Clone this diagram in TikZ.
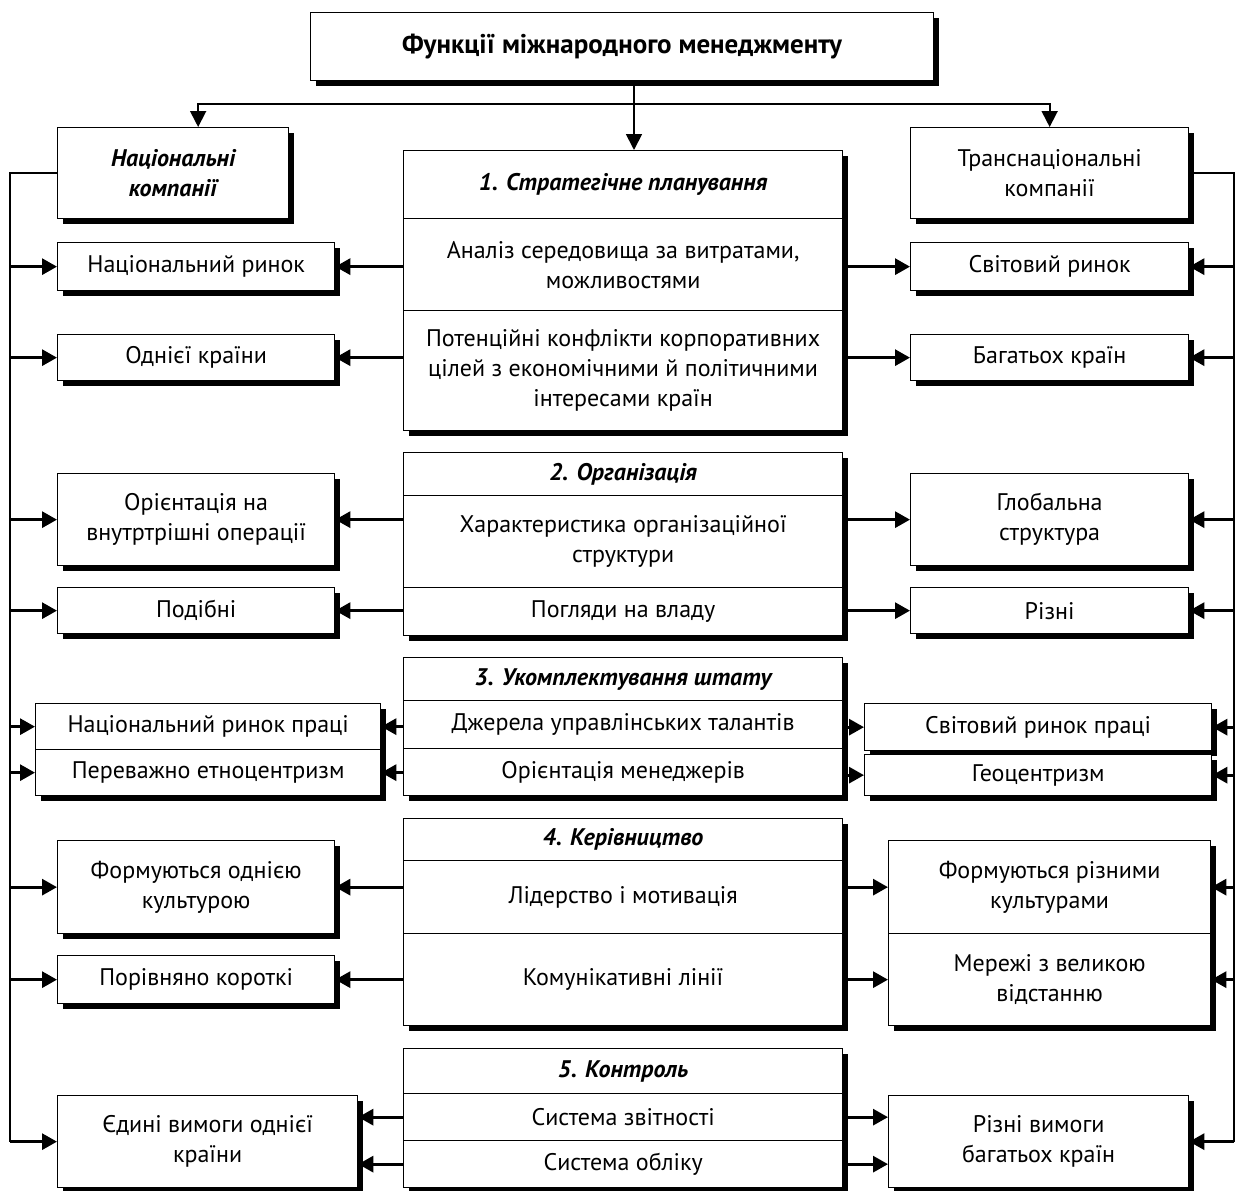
\documentclass[tikz,border=0pt]{standalone}
\usepackage{fontspec}
\setmainfont{PT Sans}
\usetikzlibrary{arrows.meta, shadows}

\tikzset{
  box/.style={draw, line width=1.3pt, fill=white, anchor=north west, align=center, inner sep=0pt,
    font=\fontsize{24}{30}\selectfont,
    drop shadow={shadow xshift=5pt, shadow yshift=-5pt, fill=black, opacity=1}},
  head/.style={box, font=\fontsize{24}{30}\selectfont\bfseries\itshape},
  mid/.style={box, minimum width=439pt},
  midhead/.style={head, minimum width=439pt},
  lside/.style={box, minimum width=277pt},
  rside/.style={box, minimum width=278pt},
  wire/.style={line width=1.8pt},
  down/.style={wire, -{Triangle[length=16pt, width=16pt]}},
  arr/.style={line width=3pt, -{Triangle[length=15pt, width=16pt]}},
}

\begin{document}
\begin{tikzpicture}[x=1pt, y=-1pt]
    \useasboundingbox (0,0) rectangle (1243,1191);

    % Title
    \node[box, font=\fontsize{27}{32}\selectfont\bfseries, minimum width=623pt, minimum height=68pt] (title) at (310,12) {Функції міжнародного менеджменту};

    % Companies
    \node[head, minimum width=231pt, minimum height=91pt] (natco) at (57,127) {Національні\\компанії};
    \node[rside, minimum height=91pt] (transco) at (910,127) {Транснаціональні\\компанії};

    % 1. Planning
    \node[midhead, minimum height=68pt] (plan) at (403,150) {1. Стратегічне планування};
    \node[mid, minimum height=92pt] (analiz) at (403,218) {Аналіз середовища за витратами,\\можливостями};
    \node[mid, minimum height=120pt] (konfl) at (403,310) {Потенційні конфлікти корпоративних\\цілей з економічними й політичними\\інтересами країн};

    % 2. Organisation
    \node[midhead, minimum height=43pt] (org) at (403,452) {2. Організація};
    \node[mid, minimum height=92pt] (harakt) at (403,495) {Характеристика організаційної\\структури};
    \node[mid, minimum height=48pt] (vlada) at (403,587) {Погляди на владу};

    % 3. Staffing
    \node[midhead, minimum height=43pt] (shtat) at (403,657) {3. Укомплектування штату};
    \node[mid, minimum height=48pt] (dzherela) at (403,700) {Джерела управлінських талантів};
    \node[mid, minimum height=47pt] (orman) at (403,748) {Орієнтація менеджерів};

    % 4. Leading
    \node[midhead, minimum height=42pt] (kerivn) at (403,818) {4. Керівництво};
    \node[mid, minimum height=73pt] (lider) at (403,860) {Лідерство і мотивація};
    \node[mid, minimum height=92pt] (komun) at (403,933) {Комунікативні лінії};

    % 5. Control
    \node[midhead, minimum height=45pt] (kontrol) at (403,1048) {5. Контроль};
    \node[mid, minimum height=47pt] (zvit) at (403,1093) {Система звітності};
    \node[mid, minimum height=47pt] (oblik) at (403,1140) {Система обліку};

    % National side
    \node[lside, minimum height=48pt] (natmkt) at (57,242) {Національний ринок};
    \node[lside, minimum height=46pt] (odna) at (57,334) {Однієї країни};
    \node[lside, minimum height=92pt] (vnutr) at (57,473) {Орієнтація на\\внутртрішні операції};
    \node[lside, minimum height=46pt] (podibni) at (57,587) {Подібні};
    \node[box, minimum width=345pt, minimum height=46pt] (natlab) at (35,703) {Національний ринок праці};
    \node[box, minimum width=345pt, minimum height=46pt] (etno) at (35,749) {Переважно етноцентризм};
    \node[lside, minimum height=93pt] (kult1) at (57,840) {Формуються однією\\культурою};
    \node[lside, minimum height=48pt] (short) at (57,955) {Порівняно короткі};
    \node[box, minimum width=300pt, minimum height=92pt] (edyni) at (57,1095) {Єдині вимоги однієї\\країни};

    % Transnational side
    \node[rside, minimum height=48pt] (svmkt) at (910,242) {Світовий ринок};
    \node[rside, minimum height=46pt] (bagato) at (910,334) {Багатьох країн};
    \node[rside, minimum height=92pt] (glob) at (910,473) {Глобальна\\структура};
    \node[rside, minimum height=46pt] (rizni) at (910,587) {Різні};
    \node[box, minimum width=347pt, minimum height=47pt] (svlab) at (864,703) {Світовий ринок праці};
    \node[box, minimum width=347pt, minimum height=41pt] (geo) at (864,754) {Геоцентризм};
    \node[box, minimum width=322pt, minimum height=93pt] (kultn) at (888,840) {Формуються різними\\культурами};
    \node[box, minimum width=322pt, minimum height=92pt] (merezhi) at (888,933) {Мережі з великою\\відстанню};
    \node[box, minimum width=300pt, minimum height=92pt] (rizvym) at (888,1095) {Різні вимоги\\багатьох країн};

    % Top split
    \coordinate (split) at (634,104);
    \draw[wire] (title.south -| split) -- (split);
    \draw[down] (split) -- (plan.north -| split);
    \draw[down] (split) -| ([xshift=25pt]natco.north);
    \draw[down] (split) -| (transco.north);

    % Buses
    \coordinate (lbus) at (10,0);
    \coordinate (rbus) at (1234,0);
    \draw[wire] (natco.west) -| (lbus |- edyni.west);
    \draw[wire] (transco.east) -| (rbus |- rizvym.east);
    \foreach \n in {natmkt, odna, vnutr, podibni, natlab, etno, kult1, short, edyni}
        \draw[arr] (lbus |- \n.west) -- (\n.west);
    \foreach \n in {svmkt, bagato, glob, rizni, svlab, geo, kultn, merezhi, rizvym}
        \draw[arr] (rbus |- \n.east) -- (\n.east);

    % Functions to sides
    \draw[arr] (natmkt.east -| analiz.west) -- (natmkt.east);
    \draw[arr] (odna.east -| konfl.west) -- (odna.east);
    \draw[arr] (vnutr.east -| harakt.west) -- (vnutr.east);
    \draw[arr] (podibni.east -| vlada.west) -- (podibni.east);
    \draw[arr] (natlab.east -| dzherela.west) -- (natlab.east);
    \draw[arr] (etno.east -| orman.west) -- (etno.east);
    \draw[arr] (kult1.east -| lider.west) -- (kult1.east);
    \draw[arr] (short.east -| komun.west) -- (short.east);
    \draw[arr] (zvit.west) -- (zvit.west -| edyni.east);
    \draw[arr] (oblik.west) -- (oblik.west -| edyni.east);

    \draw[arr] (svmkt.west -| analiz.east) -- (svmkt.west);
    \draw[arr] (bagato.west -| konfl.east) -- (bagato.west);
    \draw[arr] (glob.west -| harakt.east) -- (glob.west);
    \draw[arr] (rizni.west -| vlada.east) -- (rizni.west);
    \draw[arr] (svlab.west -| dzherela.east) -- (svlab.west);
    \draw[arr] (geo.west -| orman.east) -- (geo.west);
    \draw[arr] (kultn.west -| lider.east) -- (kultn.west);
    \draw[arr] (merezhi.west -| komun.east) -- (merezhi.west);
    \draw[arr] (zvit.east) -- (zvit.east -| rizvym.west);
    \draw[arr] (oblik.east) -- (oblik.east -| rizvym.west);
\end{tikzpicture}
\end{document}
